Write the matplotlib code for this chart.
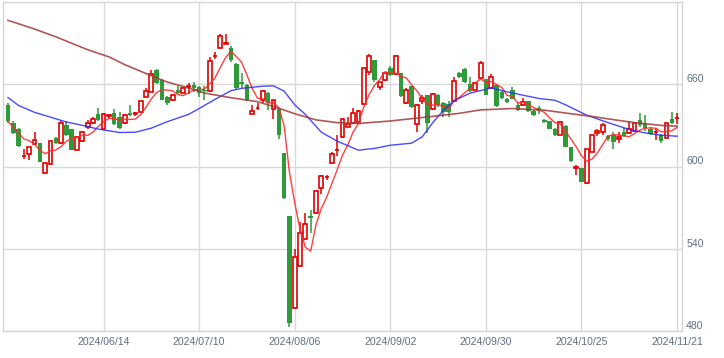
import matplotlib
matplotlib.use('Agg')
import matplotlib.pyplot as plt
import numpy as np
import pandas as pd

# ---- data ----
holidays = ['2024-07-15', '2024-08-12', '2024-09-16', '2024-09-23', '2024-10-14', '2024-11-04']
dates = [d for d in pd.bdate_range('2024-05-21', '2024-11-21') if d.strftime('%Y-%m-%d') not in holidays]

opens = [645, 632, 627.5, 607.5, 609, 616.3, 617, 595.4, 601.5, 621,
         617, 630.6, 627, 612.4, 618.5, 629, 631.4, 638, 627.7, 637,
         639, 636, 631.4, 639, 638.4, 639.4, 650.7, 654.4, 670.2, 663.4,
         651, 648.3, 655.6, 653.7, 658.3, 659.8, 658, 655.7, 654.9, 680.5,
         686.8, 689.6, 686.8, 675, 662, 659.3, 638.6, 642.6, 648.3, 653.7,
         642.3, 641.8, 609.5, 563.8, 496.5, 527.3, 546.8, 563.8, 565.8, 584,
         592.2, 602.2, 611.8, 621.2, 628.9, 631.8, 632.5, 645.4, 669, 677.5,
         658.1, 662.9, 672.2, 667.3, 668.2, 646, 658.5, 630.8, 647.8, 652,
         641.6, 652, 646.4, 645.9, 647.8, 668.5, 670.9, 660.5, 656.1, 664.6,
         663.6, 657.6, 659.3, 654.4, 649.6, 656.1, 645.2, 644.7, 647.6, 640.3,
         642.8, 633.8, 633, 627.5, 623.3, 629.4, 614.3, 599.2, 598.6, 587.6,
         610.7, 624.1, 625.2, 622.1, 622.8, 619.7, 625.2, 624.5, 626, 633.8,
         631.4, 627.7, 625.1, 623.3, 620.9, 635, 635.4]
highs = [646.5, 633, 628, 613, 614, 625, 617.5, 602.5, 618.8, 621.5,
         633, 633, 627.5, 622, 626, 633.8, 636, 643, 639, 638.5,
         642.3, 640, 638.2, 644.7, 640, 648, 657, 670.7, 671, 664,
         651.5, 653, 659, 658, 661, 662, 659, 659, 680, 683.5,
         697, 696.4, 688, 675.5, 668.2, 660, 644.7, 646, 656, 654,
         648.5, 642, 610, 564, 539.7, 559.4, 566.2, 568.2, 583, 593.7,
         594, 610.5, 623.3, 635.5, 636.2, 642.5, 641, 672, 681.9, 678,
         662, 669, 673, 681.5, 668.5, 657, 659, 645.5, 652, 652.5,
         653.5, 653, 647, 648, 665, 669, 671.5, 665, 661.5, 676.8,
         664, 667.8, 659.5, 655, 650, 658, 646, 650.3, 648, 641,
         644, 634.5, 633.5, 628, 633, 630, 614.5, 601, 599, 613,
         623, 627, 632, 623, 625, 625, 628, 633.5, 632, 638.8,
         637.5, 628.5, 628, 624, 632, 639.8, 639]
lows = [632, 624, 614, 605.3, 605, 616, 603, 594.4, 601, 616.5,
        616.5, 622.5, 612, 612, 618, 627, 631, 633.5, 627.5, 635,
        630, 627.5, 631, 637, 637, 639, 650.5, 654, 660, 648.5,
        644.5, 648, 653, 653.5, 653, 654, 650.5, 648.3, 654.5, 678.5,
        686.5, 689, 676, 656, 657.5, 648, 638, 641, 646, 641,
        635, 620.4, 576.5, 482.7, 496, 527, 546.5, 551.4, 565.5, 580,
        590, 602, 608, 621, 628.5, 631, 632, 645, 666.5, 661.7,
        656, 662.5, 666, 667, 651, 645.5, 643, 625.3, 645.5, 624.5,
        641, 643.5, 636, 636, 647.5, 664.5, 661, 654.5, 655.5, 664,
        652, 657, 643.5, 649.5, 646.5, 649, 640.5, 644, 640, 637,
        638, 632, 627, 622.5, 623, 614, 603.5, 593.7, 588.5, 587.5,
        610.5, 622.5, 623, 618.5, 613, 617, 621.5, 624, 625.5, 628.5,
        626, 623, 619.5, 617.5, 620.5, 631, 631]
closes = [633, 624.5, 615, 607.8, 614, 619.2, 603.4, 602.2, 618.5, 617,
          631.6, 622.8, 612.4, 621.6, 625.5, 631.4, 634.3, 633.8, 638.6, 637.3,
          631, 628, 637.9, 637.4, 638.7, 647.6, 654.9, 667.8, 661, 648.8,
          646, 652.5, 653.7, 657.6, 658.6, 656.9, 653.7, 655.4, 676.8, 680.8,
          695, 689.9, 678, 656.9, 660.5, 648.3, 640.3, 642.9, 654.9, 646,
          648.3, 622.8, 576.7, 485.6, 534.1, 551.6, 557.7, 562.1, 582, 593,
          592.5, 608.8, 612.1, 635, 630.8, 639.1, 640.3, 671.6, 680.4, 663.4,
          661.7, 668.5, 666.6, 680.4, 651.3, 656.1, 643.4, 645.2, 650.3, 631.8,
          653.2, 644.7, 639.8, 639.8, 662.2, 665.3, 661.7, 655.1, 661.2, 675.8,
          652.5, 665.3, 644.2, 650, 647.1, 649.6, 641, 647.1, 640.3, 637.4,
          640.3, 632.5, 627.2, 622.8, 632.1, 614.3, 603.9, 599.4, 588.8, 612.7,
          622.8, 625.7, 630.1, 619.7, 618, 621.6, 622.3, 627, 631.4, 630.6,
          628.1, 624, 625.3, 618.5, 631.4, 631.4, 635.6]

# 25-day and 75-day moving averages (candle index, value)
ma25_idx = [0, 2, 5, 8, 11, 14, 17, 21, 24, 27, 30, 34, 36, 39, 42, 44, 48, 50, 52, 54,
            56, 59, 62, 66, 69, 72, 76, 78, 80, 82, 84, 87, 91, 94, 97, 100, 103, 105,
            109, 113, 117, 120, 123, 126]
ma25_val = [650.3, 644.5, 639.5, 636, 632.5, 630, 627.3, 624.8, 625, 628, 632.7, 638, 642.3,
            649, 655.3, 657, 658.6, 658.8, 655, 645, 638, 625, 618.5, 611.9, 613.2, 615.5,
            617, 621.6, 632, 641, 648, 653.5, 657.3, 654.5, 652, 649.6, 648.3, 645,
            637.4, 632, 627, 624.5, 622.8, 622.1]
ma75_idx = [0, 5, 9, 15, 19, 22, 27, 30, 34, 37, 41, 44, 47, 51, 54, 58, 62, 66, 72, 78,
            85, 89, 95, 101, 106, 110, 114, 118, 123, 126]
ma75_val = [706.6, 700.3, 694.6, 685.2, 680, 674.3, 666.2, 661.6, 657.3, 653.6, 650.8, 649,
            647.3, 642.5, 638.5, 634, 632, 631.4, 633.2, 635.7, 638.8, 641.3, 642.3, 641.1,
            638.5, 636.5, 634.2, 632, 630, 629.4]

y_ticks = [480, 540, 600, 660]

# ---- drawing ----
plt.rcParams['font.family'] = ['Liberation Sans', 'DejaVu Sans']
fig = plt.figure(figsize=(7.24, 3.58), dpi=100)
ax = fig.add_axes([3 / 724, 1 - 331 / 358, 679 / 724, 329 / 358])

n = len(dates)
x = np.arange(n)
o = np.array(opens); h = np.array(highs); l = np.array(lows); c = np.array(closes)
up = c >= o

red = '#e00000'
green = '#2f9a3a'

# wicks
ax.vlines(x[up], l[up], h[up], color=red, lw=1.1, zorder=2)
ax.vlines(x[~up], l[~up], h[~up], color=green, lw=1.1, zorder=2)
# bodies
bw = 0.72
ax.bar(x[up], np.maximum(c[up] - o[up], 0.3), bottom=o[up], width=bw,
       facecolor='white', edgecolor=red, linewidth=1.2, zorder=3)
ax.bar(x[~up], np.maximum(o[~up] - c[~up], 0.6), bottom=c[~up], width=bw + 0.12,
       facecolor=green, edgecolor='none', linewidth=0, zorder=3)

# moving averages
ma5 = pd.Series(closes).rolling(5, min_periods=1).mean()
ax.plot(x, ma5, color='#ff2a2a', lw=1.0, zorder=4, alpha=0.9)
ax.plot(ma25_idx, ma25_val, color='#2a2aff', lw=1.0, zorder=4, alpha=0.85)
ax.plot(ma75_idx, ma75_val, color='#a33a3a', lw=1.2, zorder=4, alpha=0.85)

ax.set_xlim(-0.94, n - 1 + 0.93)
ax.set_ylim(480, 720)

tick_pos = list(range(18, n, 18))
ax.set_xticks(tick_pos)
ax.set_xticklabels([dates[i].strftime('%Y/%m/%d') for i in tick_pos])
ax.set_yticks(y_ticks)
ax.yaxis.tick_right()
ax.tick_params(axis='both', length=0, labelsize=7.6, colors='#5f6f84')
ax.tick_params(axis='x', pad=4)
ax.tick_params(axis='y', pad=3)
for lab in ax.get_yticklabels():
    lab.set_verticalalignment('bottom')

ax.grid(True, color='#dadada', lw=1.0, zorder=0)
ax.set_axisbelow(True)
for s in ax.spines.values():
    s.set_color('#d6d6d6')
    s.set_linewidth(1.0)

fig.savefig('out.png', dpi=100)
